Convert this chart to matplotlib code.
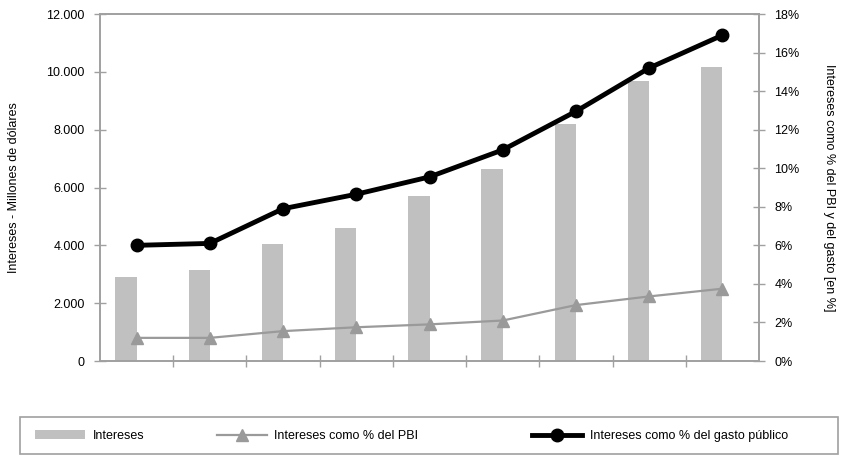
import numpy as np
import matplotlib.pyplot as plt
from matplotlib.ticker import FuncFormatter
from matplotlib.patches import Rectangle

plt.rcParams['font.family'] = ['Liberation Sans', 'DejaVu Sans']

# data (9 years, no x labels shown)
intereses = [2900, 3150, 4050, 4600, 5700, 6650, 8200, 9700, 10150]
pct_pbi = [1.2, 1.2, 1.55, 1.75, 1.9, 2.1, 2.9, 3.35, 3.75]
pct_gasto = [6.0, 6.1, 7.9, 8.65, 9.55, 10.95, 12.95, 15.2, 16.9]

x = np.arange(len(intereses))
bar_grey = '#c0c0c0'
line_grey = '#9a9a9a'
axis_grey = '#a0a0a0'
fs = 9

fig = plt.figure(figsize=(8.44, 4.61), dpi=100)
W, H = 844, 461
ax = fig.add_axes([100 / W, 1 - 361 / H, 659 / W, 347 / H])
ax2 = ax.twinx()

bars = ax.bar(x - 0.145, intereses, width=0.29, color=bar_grey, label='Intereses', zorder=1)
l1, = ax2.plot(x, pct_pbi, color=line_grey, lw=1.6, marker='^', ms=8.5,
               label='Intereses como % del PBI', zorder=3)
l2, = ax2.plot(x, pct_gasto, color='black', lw=3.5, marker='o', ms=9,
               label='Intereses como % del gasto público', zorder=4)

ax.set_xlim(-0.5, len(x) - 0.5)
ax.set_ylim(0, 12000)
ax2.set_ylim(0, 18)
ax.set_yticks(np.arange(0, 12001, 2000))
ax2.set_yticks(np.arange(0, 19, 2))
ax.yaxis.set_major_formatter(FuncFormatter(lambda v, p: f'{int(v):,}'.replace(',', '.')))
ax2.yaxis.set_major_formatter(FuncFormatter(lambda v, p: f'{int(v)}%'))
ax.set_xticks(np.arange(0.5, len(x) - 0.5, 1))
ax.set_xticklabels([])

for a in (ax, ax2):
    for s in a.spines.values():
        s.set_color(axis_grey)
        s.set_linewidth(1.2)
    a.tick_params(direction='inout', length=8, color=axis_grey, labelsize=fs, width=1, pad=7)

ax.set_ylabel('Intereses - Millones de dólares', fontsize=fs)
ax.yaxis.set_label_coords(-80 / 659, 0.5)
ax2.set_ylabel('Intereses como % del PBI y del gasto [en %]', fontsize=fs, rotation=-90)
ax2.yaxis.set_label_coords(1 + 76 / 659, 0.5)

# legend frame and three entries placed like the reference
fig.add_artist(Rectangle((20 / W, 1 - 454 / H), 818 / W, 37 / H, transform=fig.transFigure,
                         fill=False, edgecolor=axis_grey, lw=1.2))
for h, lab, x0 in [(bars, 'Intereses', 35), (l1, 'Intereses como % del PBI', 217),
                   (l2, 'Intereses como % del gasto público', 532)]:
    fig.legend([h], [lab], loc='center left', bbox_to_anchor=(x0 / W, 1 - 436 / H),
               fontsize=fs, frameon=False, handlelength=4, handletextpad=0.6,
               borderaxespad=0, borderpad=0)

fig.savefig('out.png', dpi=100)
